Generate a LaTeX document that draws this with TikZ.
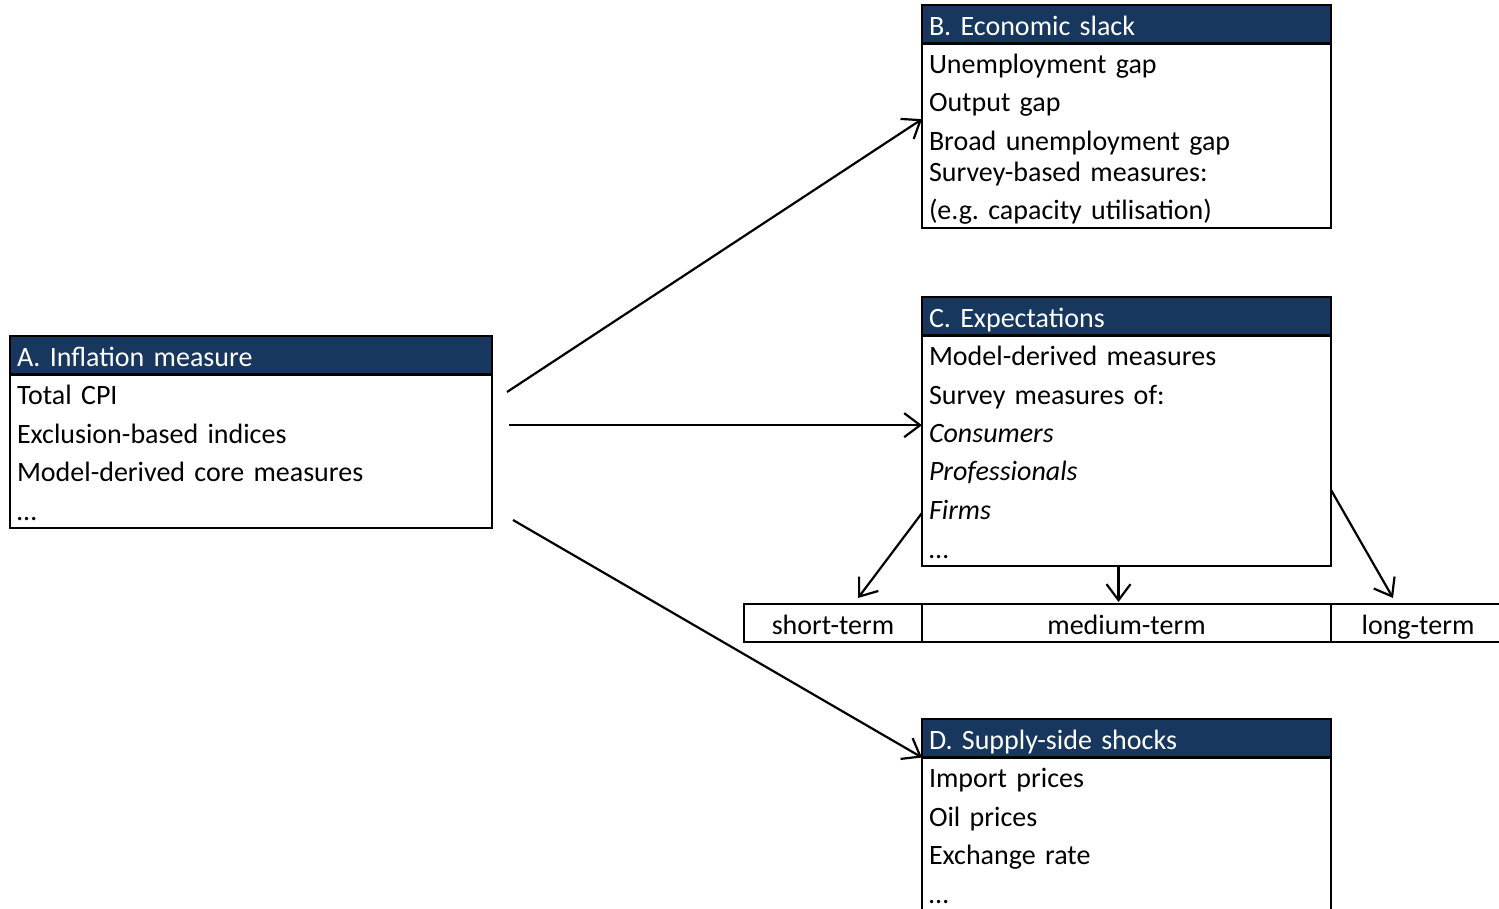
\documentclass[tikz,border=0pt]{standalone}
\usepackage{fontspec}
\setmainfont{Carlito}
\usetikzlibrary{arrows.meta,positioning,calc}
\definecolor{hdNavy}{HTML}{17375E}
\newcommand{\rowstrut}{\rule[-8pt]{0pt}{38pt}}
\newcommand{\hdstrut}{\rule[-7pt]{0pt}{36pt}}
\tikzset{
  cell/.style={draw, line width=2.2pt, outer sep=0pt, inner xsep=7pt,
    font=\fontsize{28}{38.5}\selectfont},
  headbox/.style={cell, fill=hdNavy, text=white, text width=395pt,
    minimum height=38.5pt, align=left, inner ysep=0pt, anchor=north west},
  bodybox/.style={cell, text width=395pt, align=left, inner ysep=0pt},
  termbox/.style={cell, minimum height=38pt, inner xsep=0pt, inner ysep=0pt},
  link/.style={-{Straight Barb[length=16pt,width=24pt]}, line width=2.2pt}
}
\begin{document}
\frenchspacing
\begin{tikzpicture}[x=1pt, y=-1pt, node distance=0pt]
  \useasboundingbox (0,0) rectangle (1499,909);
  % A
  \node[headbox, text width=468pt] (ahead) at (10,336) {\hdstrut A. Inflation measure};
  \node[bodybox, text width=468pt, below=of ahead] (abody) {\rowstrut Total CPI\\Exclusion-based indices\\Model-derived core measures\\…\rowstrut};
  % B
  \node[headbox] (bhead) at (922,5) {\hdstrut B. Economic slack};
  \node[bodybox, below=of bhead] (bbody) {\rowstrut Unemployment gap\\Output gap\\Broad unemployment gap\\[-7.5pt]Survey-based measures:\\(e.g. capacity utilisation)\rowstrut};
  % C
  \node[headbox] (chead) at (922,297) {\hdstrut C. Expectations};
  \node[bodybox, below=of chead] (cbody) {\rowstrut Model-derived measures\\Survey measures of:\\\textit{Consumers}\\\textit{Professionals}\\\textit{Firms}\\…\rowstrut};
  % horizons
  \node[termbox, anchor=north west, minimum width=178pt] (short) at (744,604) {\hdstrut short-term};
  \node[termbox, right=of short, minimum width=409pt] (medium) {\hdstrut medium-term};
  \node[termbox, right=of medium, minimum width=174pt] (long) {\hdstrut long-term};
  % D
  \node[headbox] (dhead) at (922,719) {\hdstrut D. Supply-side shocks};
  \node[bodybox, below=of dhead] (dbody) {\rowstrut Import prices\\Oil prices\\Exchange rate\\…\rowstrut};
  % arrows
  \coordinate (ab) at ($(ahead.north east)+(15,56)$);
  \coordinate (ac) at ($(abody.north east)!0.33!(abody.south east)+(17,0)$);
  \coordinate (ad) at ($(abody.south east)+(21,-8)$);
  \draw[link] (ab) -- ($(bbody.north west)!0.41!(bbody.south west)$);
  \draw[link] (ac) -- (ac -| cbody.west);
  \draw[link] (ad) -- (dhead.south west);
  \coordinate (cs) at ($(cbody.north west)!0.77!(cbody.south west)$);
  \coordinate (cm) at ($(cbody.south)+(-8,0)$);
  \coordinate (cl) at ($(cbody.north east)!0.67!(cbody.south east)$);
  \draw[link] (cs) -- ($(short.north)+(25,-6)$);
  \draw[link] (cm) -- ($(cm |- medium.north)+(0,-2)$);
  \draw[link] (cl) -- ($(long.north)+(-25,-6)$);
\end{tikzpicture}
\end{document}
